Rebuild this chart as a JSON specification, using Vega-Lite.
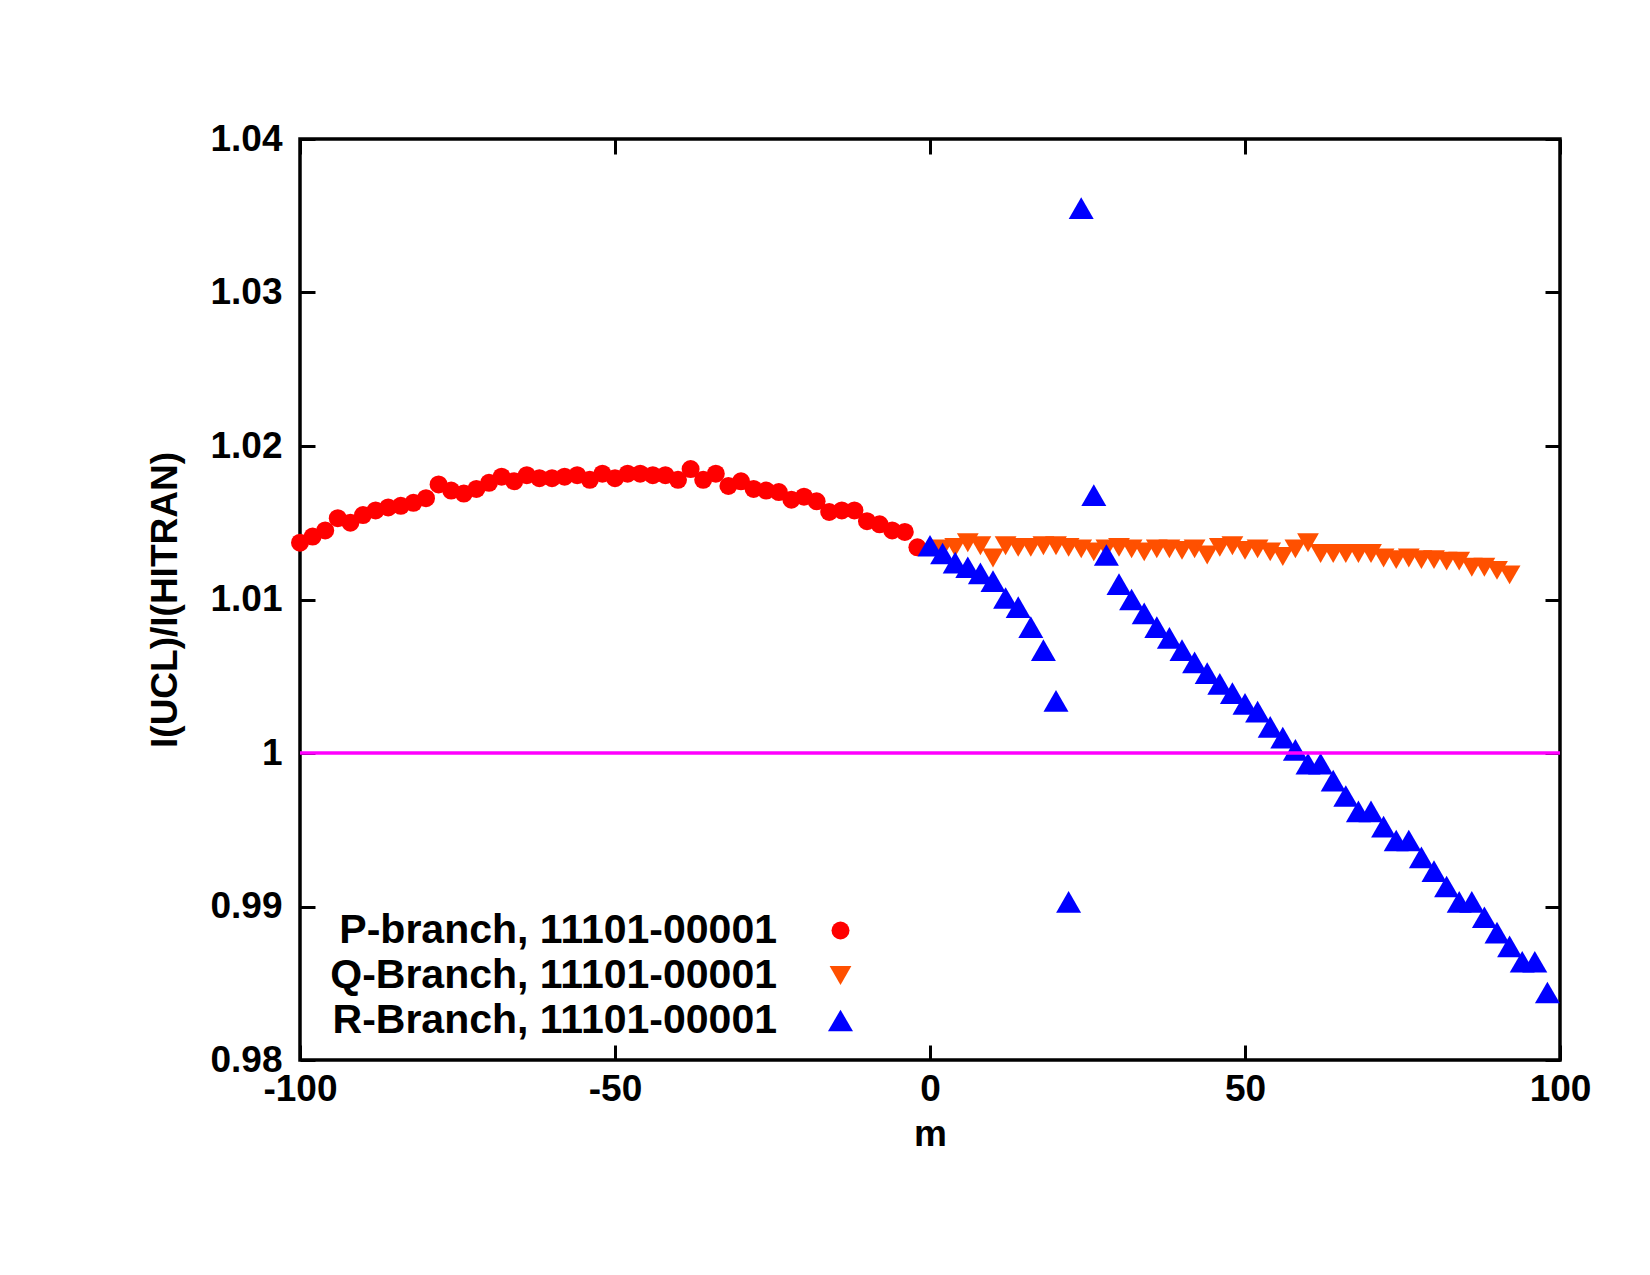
{
  "$schema": "https://vega.github.io/schema/vega-lite/v6.json",
  "width": 1260,
  "height": 921,
  "autosize": "none",
  "padding": {"left": 300, "top": 139, "right": 90, "bottom": 215},
  "background": "white",
  "config": {
    "view": {"stroke": "black", "strokeWidth": 3.5},
    "font": "Liberation Sans",
    "axis": {
      "grid": false,
      "domain": false,
      "labelFont": "Liberation Sans",
      "labelFontWeight": "bold",
      "labelFontSize": 37,
      "labelColor": "black",
      "labelFlush": false,
      "titleFont": "Liberation Sans",
      "titleFontWeight": "bold",
      "titleFontSize": 37,
      "titleColor": "black",
      "tickColor": "black",
      "tickWidth": 3,
      "tickSize": -15
    }
  },
  "layer": [
    {
      "data": {"values": [
        {"series": "P-branch, 11101-00001", "m": -100, "ratio": 1.0137},
        {"series": "P-branch, 11101-00001", "m": -98, "ratio": 1.0141},
        {"series": "P-branch, 11101-00001", "m": -96, "ratio": 1.0145},
        {"series": "P-branch, 11101-00001", "m": -94, "ratio": 1.0153},
        {"series": "P-branch, 11101-00001", "m": -92, "ratio": 1.0150},
        {"series": "P-branch, 11101-00001", "m": -90, "ratio": 1.0155},
        {"series": "P-branch, 11101-00001", "m": -88, "ratio": 1.0158},
        {"series": "P-branch, 11101-00001", "m": -86, "ratio": 1.0160},
        {"series": "P-branch, 11101-00001", "m": -84, "ratio": 1.0161},
        {"series": "P-branch, 11101-00001", "m": -82, "ratio": 1.0163},
        {"series": "P-branch, 11101-00001", "m": -80, "ratio": 1.0166},
        {"series": "P-branch, 11101-00001", "m": -78, "ratio": 1.0175},
        {"series": "P-branch, 11101-00001", "m": -76, "ratio": 1.0171},
        {"series": "P-branch, 11101-00001", "m": -74, "ratio": 1.0169},
        {"series": "P-branch, 11101-00001", "m": -72, "ratio": 1.0172},
        {"series": "P-branch, 11101-00001", "m": -70, "ratio": 1.0176},
        {"series": "P-branch, 11101-00001", "m": -68, "ratio": 1.0180},
        {"series": "P-branch, 11101-00001", "m": -66, "ratio": 1.0177},
        {"series": "P-branch, 11101-00001", "m": -64, "ratio": 1.0181},
        {"series": "P-branch, 11101-00001", "m": -62, "ratio": 1.0179},
        {"series": "P-branch, 11101-00001", "m": -60, "ratio": 1.0179},
        {"series": "P-branch, 11101-00001", "m": -58, "ratio": 1.0180},
        {"series": "P-branch, 11101-00001", "m": -56, "ratio": 1.0181},
        {"series": "P-branch, 11101-00001", "m": -54, "ratio": 1.0178},
        {"series": "P-branch, 11101-00001", "m": -52, "ratio": 1.0182},
        {"series": "P-branch, 11101-00001", "m": -50, "ratio": 1.0179},
        {"series": "P-branch, 11101-00001", "m": -48, "ratio": 1.0182},
        {"series": "P-branch, 11101-00001", "m": -46, "ratio": 1.0182},
        {"series": "P-branch, 11101-00001", "m": -44, "ratio": 1.0181},
        {"series": "P-branch, 11101-00001", "m": -42, "ratio": 1.0181},
        {"series": "P-branch, 11101-00001", "m": -40, "ratio": 1.0178},
        {"series": "P-branch, 11101-00001", "m": -38, "ratio": 1.0185},
        {"series": "P-branch, 11101-00001", "m": -36, "ratio": 1.0178},
        {"series": "P-branch, 11101-00001", "m": -34, "ratio": 1.0182},
        {"series": "P-branch, 11101-00001", "m": -32, "ratio": 1.0174},
        {"series": "P-branch, 11101-00001", "m": -30, "ratio": 1.0177},
        {"series": "P-branch, 11101-00001", "m": -28, "ratio": 1.0172},
        {"series": "P-branch, 11101-00001", "m": -26, "ratio": 1.0171},
        {"series": "P-branch, 11101-00001", "m": -24, "ratio": 1.0170},
        {"series": "P-branch, 11101-00001", "m": -22, "ratio": 1.0165},
        {"series": "P-branch, 11101-00001", "m": -20, "ratio": 1.0167},
        {"series": "P-branch, 11101-00001", "m": -18, "ratio": 1.0164},
        {"series": "P-branch, 11101-00001", "m": -16, "ratio": 1.0157},
        {"series": "P-branch, 11101-00001", "m": -14, "ratio": 1.0158},
        {"series": "P-branch, 11101-00001", "m": -12, "ratio": 1.0158},
        {"series": "P-branch, 11101-00001", "m": -10, "ratio": 1.0151},
        {"series": "P-branch, 11101-00001", "m": -8, "ratio": 1.0149},
        {"series": "P-branch, 11101-00001", "m": -6, "ratio": 1.0145},
        {"series": "P-branch, 11101-00001", "m": -4, "ratio": 1.0144},
        {"series": "P-branch, 11101-00001", "m": -2, "ratio": 1.0134},
        {"series": "Q-Branch, 11101-00001", "m": 2, "ratio": 1.0133},
        {"series": "Q-Branch, 11101-00001", "m": 4, "ratio": 1.0134},
        {"series": "Q-Branch, 11101-00001", "m": 6, "ratio": 1.0137},
        {"series": "Q-Branch, 11101-00001", "m": 8, "ratio": 1.0135},
        {"series": "Q-Branch, 11101-00001", "m": 10, "ratio": 1.0127},
        {"series": "Q-Branch, 11101-00001", "m": 12, "ratio": 1.0135},
        {"series": "Q-Branch, 11101-00001", "m": 14, "ratio": 1.0134},
        {"series": "Q-Branch, 11101-00001", "m": 16, "ratio": 1.0134},
        {"series": "Q-Branch, 11101-00001", "m": 18, "ratio": 1.0135},
        {"series": "Q-Branch, 11101-00001", "m": 20, "ratio": 1.0135},
        {"series": "Q-Branch, 11101-00001", "m": 22, "ratio": 1.0134},
        {"series": "Q-Branch, 11101-00001", "m": 24, "ratio": 1.0133},
        {"series": "Q-Branch, 11101-00001", "m": 26, "ratio": 1.0131},
        {"series": "Q-Branch, 11101-00001", "m": 28, "ratio": 1.0133},
        {"series": "Q-Branch, 11101-00001", "m": 30, "ratio": 1.0134},
        {"series": "Q-Branch, 11101-00001", "m": 32, "ratio": 1.0133},
        {"series": "Q-Branch, 11101-00001", "m": 34, "ratio": 1.0131},
        {"series": "Q-Branch, 11101-00001", "m": 36, "ratio": 1.0133},
        {"series": "Q-Branch, 11101-00001", "m": 38, "ratio": 1.0133},
        {"series": "Q-Branch, 11101-00001", "m": 40, "ratio": 1.0132},
        {"series": "Q-Branch, 11101-00001", "m": 42, "ratio": 1.0133},
        {"series": "Q-Branch, 11101-00001", "m": 44, "ratio": 1.0129},
        {"series": "Q-Branch, 11101-00001", "m": 46, "ratio": 1.0134},
        {"series": "Q-Branch, 11101-00001", "m": 48, "ratio": 1.0135},
        {"series": "Q-Branch, 11101-00001", "m": 50, "ratio": 1.0132},
        {"series": "Q-Branch, 11101-00001", "m": 52, "ratio": 1.0133},
        {"series": "Q-Branch, 11101-00001", "m": 54, "ratio": 1.0131},
        {"series": "Q-Branch, 11101-00001", "m": 56, "ratio": 1.0128},
        {"series": "Q-Branch, 11101-00001", "m": 58, "ratio": 1.0133},
        {"series": "Q-Branch, 11101-00001", "m": 60, "ratio": 1.0137},
        {"series": "Q-Branch, 11101-00001", "m": 62, "ratio": 1.0130},
        {"series": "Q-Branch, 11101-00001", "m": 64, "ratio": 1.0130},
        {"series": "Q-Branch, 11101-00001", "m": 66, "ratio": 1.0130},
        {"series": "Q-Branch, 11101-00001", "m": 68, "ratio": 1.0130},
        {"series": "Q-Branch, 11101-00001", "m": 70, "ratio": 1.0130},
        {"series": "Q-Branch, 11101-00001", "m": 72, "ratio": 1.0127},
        {"series": "Q-Branch, 11101-00001", "m": 74, "ratio": 1.0126},
        {"series": "Q-Branch, 11101-00001", "m": 76, "ratio": 1.0127},
        {"series": "Q-Branch, 11101-00001", "m": 78, "ratio": 1.0126},
        {"series": "Q-Branch, 11101-00001", "m": 80, "ratio": 1.0126},
        {"series": "Q-Branch, 11101-00001", "m": 82, "ratio": 1.0125},
        {"series": "Q-Branch, 11101-00001", "m": 84, "ratio": 1.0125},
        {"series": "Q-Branch, 11101-00001", "m": 86, "ratio": 1.0121},
        {"series": "Q-Branch, 11101-00001", "m": 88, "ratio": 1.0121},
        {"series": "Q-Branch, 11101-00001", "m": 90, "ratio": 1.0119},
        {"series": "Q-Branch, 11101-00001", "m": 92, "ratio": 1.0116},
        {"series": "R-Branch, 11101-00001", "m": 0, "ratio": 1.0135},
        {"series": "R-Branch, 11101-00001", "m": 2, "ratio": 1.0130},
        {"series": "R-Branch, 11101-00001", "m": 4, "ratio": 1.0124},
        {"series": "R-Branch, 11101-00001", "m": 6, "ratio": 1.0121},
        {"series": "R-Branch, 11101-00001", "m": 8, "ratio": 1.0117},
        {"series": "R-Branch, 11101-00001", "m": 10, "ratio": 1.0112},
        {"series": "R-Branch, 11101-00001", "m": 12, "ratio": 1.0101},
        {"series": "R-Branch, 11101-00001", "m": 14, "ratio": 1.0095},
        {"series": "R-Branch, 11101-00001", "m": 16, "ratio": 1.0082},
        {"series": "R-Branch, 11101-00001", "m": 18, "ratio": 1.0067},
        {"series": "R-Branch, 11101-00001", "m": 20, "ratio": 1.0034},
        {"series": "R-Branch, 11101-00001", "m": 22, "ratio": 0.9903},
        {"series": "R-Branch, 11101-00001", "m": 24, "ratio": 1.0355},
        {"series": "R-Branch, 11101-00001", "m": 26, "ratio": 1.0168},
        {"series": "R-Branch, 11101-00001", "m": 28, "ratio": 1.0129},
        {"series": "R-Branch, 11101-00001", "m": 30, "ratio": 1.0110},
        {"series": "R-Branch, 11101-00001", "m": 32, "ratio": 1.0100},
        {"series": "R-Branch, 11101-00001", "m": 34, "ratio": 1.0091},
        {"series": "R-Branch, 11101-00001", "m": 36, "ratio": 1.0082},
        {"series": "R-Branch, 11101-00001", "m": 38, "ratio": 1.0075},
        {"series": "R-Branch, 11101-00001", "m": 40, "ratio": 1.0067},
        {"series": "R-Branch, 11101-00001", "m": 42, "ratio": 1.0059},
        {"series": "R-Branch, 11101-00001", "m": 44, "ratio": 1.0052},
        {"series": "R-Branch, 11101-00001", "m": 46, "ratio": 1.0045},
        {"series": "R-Branch, 11101-00001", "m": 48, "ratio": 1.0039},
        {"series": "R-Branch, 11101-00001", "m": 50, "ratio": 1.0032},
        {"series": "R-Branch, 11101-00001", "m": 52, "ratio": 1.0027},
        {"series": "R-Branch, 11101-00001", "m": 54, "ratio": 1.0017},
        {"series": "R-Branch, 11101-00001", "m": 56, "ratio": 1.0010},
        {"series": "R-Branch, 11101-00001", "m": 58, "ratio": 1.0002},
        {"series": "R-Branch, 11101-00001", "m": 60, "ratio": 0.9993},
        {"series": "R-Branch, 11101-00001", "m": 62, "ratio": 0.9993},
        {"series": "R-Branch, 11101-00001", "m": 64, "ratio": 0.9982},
        {"series": "R-Branch, 11101-00001", "m": 66, "ratio": 0.9972},
        {"series": "R-Branch, 11101-00001", "m": 68, "ratio": 0.9962},
        {"series": "R-Branch, 11101-00001", "m": 70, "ratio": 0.9962},
        {"series": "R-Branch, 11101-00001", "m": 72, "ratio": 0.9952},
        {"series": "R-Branch, 11101-00001", "m": 74, "ratio": 0.9943},
        {"series": "R-Branch, 11101-00001", "m": 76, "ratio": 0.9943},
        {"series": "R-Branch, 11101-00001", "m": 78, "ratio": 0.9932},
        {"series": "R-Branch, 11101-00001", "m": 80, "ratio": 0.9923},
        {"series": "R-Branch, 11101-00001", "m": 82, "ratio": 0.9913},
        {"series": "R-Branch, 11101-00001", "m": 84, "ratio": 0.9903},
        {"series": "R-Branch, 11101-00001", "m": 86, "ratio": 0.9903},
        {"series": "R-Branch, 11101-00001", "m": 88, "ratio": 0.9893},
        {"series": "R-Branch, 11101-00001", "m": 90, "ratio": 0.9883},
        {"series": "R-Branch, 11101-00001", "m": 92, "ratio": 0.9874},
        {"series": "R-Branch, 11101-00001", "m": 94, "ratio": 0.9864},
        {"series": "R-Branch, 11101-00001", "m": 96, "ratio": 0.9864},
        {"series": "R-Branch, 11101-00001", "m": 98, "ratio": 0.9844}
      ]},
      "mark": {"type": "point", "filled": true, "opacity": 1, "strokeWidth": 0},
      "encoding": {
        "x": {
          "field": "m", "type": "quantitative",
          "scale": {"domain": [-100, 100], "nice": false, "zero": false},
          "axis": {"orient": "bottom", "values": [-100, -50, 0, 50, 100], "labelExpr": "datum.value + ''", "title": "m", "labelPadding": 26, "titleY": 85, "titleBaseline": "alphabetic"}
        },
        "y": {
          "field": "ratio", "type": "quantitative",
          "scale": {"domain": [0.98, 1.04], "nice": false, "zero": false},
          "axis": {"orient": "left", "values": [0.98, 0.99, 1, 1.01, 1.02, 1.03, 1.04], "format": "~g", "title": "I(UCL)/I(HITRAN)", "labelPadding": 33, "titleX": -135, "titleY": 460.5, "titleBaseline": "middle"}
        },
        "color": {
          "field": "series", "type": "nominal",
          "scale": {"domain": ["P-branch, 11101-00001", "Q-Branch, 11101-00001", "R-Branch, 11101-00001"], "range": ["#ff0000", "#ff5000", "#0000ff"]},
          "legend": {"orient": "none", "legendX": 520, "legendY": 771, "title": null, "padding": 0, "labelFont": "Liberation Sans", "labelFontSize": 41, "labelFontWeight": "bold", "labelColor": "black", "labelAlign": "right", "labelOffset": -84, "labelLimit": 1000, "rowPadding": 3, "symbolStrokeWidth": 0, "symbolOpacity": 1}
        },
        "shape": {
          "field": "series", "type": "nominal",
          "scale": {"domain": ["P-branch, 11101-00001", "Q-Branch, 11101-00001", "R-Branch, 11101-00001"], "range": ["circle", "triangle-down", "triangle-up"]}
        },
        "size": {
          "field": "series", "type": "nominal",
          "scale": {"domain": ["P-branch, 11101-00001", "Q-Branch, 11101-00001", "R-Branch, 11101-00001"], "range": [324, 625, 625]}
        }
      }
    },
    {
      "data": {"values": [{"level": 1}]},
      "mark": {"type": "rule", "color": "#ff00ff", "strokeWidth": 3.5},
      "encoding": {
        "x": {"datum": -100, "type": "quantitative", "axis": {"orient": "top", "labels": false, "title": null, "values": [-100, -50, 0, 50, 100]}},
        "x2": {"datum": 100},
        "y": {"field": "level", "type": "quantitative", "axis": {"orient": "right", "labels": false, "title": null, "values": [0.98, 0.99, 1, 1.01, 1.02, 1.03, 1.04]}}
      }
    }
  ],
  "resolve": {"axis": {"x": "independent", "y": "independent"}}
}
